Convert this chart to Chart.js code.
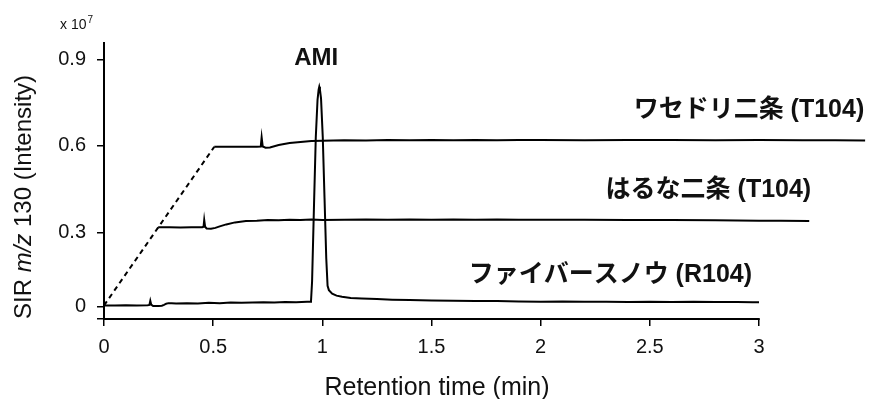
<!DOCTYPE html>
<html>
<head>
<meta charset="utf-8">
<script src="https://cdn.jsdelivr.net/npm/chart.js@4"></script>
<style>
  html, body { margin: 0; padding: 0; background: #fff; }
  canvas { display: block; }
</style>
</head>
<body>
<canvas id="c" width="872" height="399"></canvas>
<script>
// ---- Data (time in min, signal in x10^7) ----
const fiberTime   = [0, 0.05, 0.10, 0.15, 0.20, 0.208, 0.212, 0.216, 0.225, 0.25, 0.265, 0.275, 0.285, 0.295, 0.31, 0.33, 0.38, 0.43, 0.48, 0.53, 0.58, 0.63, 0.68, 0.73, 0.78, 0.83, 0.88, 0.93, 0.945,
                     0.948, 0.953, 0.962, 0.970, 0.978, 0.983, 0.986, 0.989, 0.994, 1.002, 1.010, 1.018, 1.024, 1.030, 1.045, 1.065, 1.09, 1.13, 1.18, 1.25, 1.32, 1.40, 1.50, 1.60, 1.70, 1.80, 1.90,
                     2.0, 2.1, 2.2, 2.3, 2.4, 2.5, 2.6, 2.7, 2.8, 2.9, 2.97, 3.0];
const fiberSignal = [0.047, 0.047, 0.048, 0.047, 0.048, 0.049, 0.063, 0.050, 0.045, 0.045, 0.046, 0.049, 0.053, 0.055, 0.055, 0.054, 0.055, 0.054, 0.056, 0.055, 0.057, 0.056, 0.057, 0.058, 0.057, 0.059, 0.058, 0.060, 0.060,
                     0.061, 0.13, 0.40, 0.63, 0.76, 0.795, 0.805, 0.795, 0.765, 0.63, 0.42, 0.21, 0.115, 0.100, 0.088, 0.081, 0.077, 0.073, 0.071, 0.069, 0.067, 0.066, 0.064, 0.063, 0.062, 0.062, 0.061,
                     0.060, 0.061, 0.060, 0.060, 0.059, 0.060, 0.059, 0.060, 0.059, 0.059, 0.058, 0.058];

const harunaTime   = [0.248, 0.30, 0.35, 0.40, 0.45, 0.456, 0.459, 0.463, 0.47, 0.49, 0.51, 0.53, 0.56, 0.60, 0.65, 0.70, 0.75, 0.80, 0.85, 0.90, 0.95, 1.0, 1.1, 1.2, 1.3, 1.4, 1.5, 1.6, 1.7, 1.8, 1.9, 2.0, 2.2, 2.4, 2.6, 2.8, 3.0, 3.1, 3.23];
const harunaSignal = [0.318, 0.318, 0.317, 0.318, 0.318, 0.320, 0.343, 0.320, 0.314, 0.313, 0.316, 0.321, 0.328, 0.335, 0.340, 0.341, 0.343, 0.342, 0.344, 0.343, 0.345, 0.343, 0.344, 0.345, 0.344, 0.345, 0.344, 0.345, 0.344, 0.345, 0.344, 0.344, 0.344, 0.343, 0.343, 0.342, 0.341, 0.341, 0.340];

const wasedoriTime   = [0.505, 0.55, 0.60, 0.65, 0.70, 0.718, 0.722, 0.727, 0.74, 0.76, 0.80, 0.85, 0.90, 0.95, 1.0, 1.1, 1.2, 1.3, 1.4, 1.5, 1.6, 1.7, 1.8, 1.9, 2.0, 2.2, 2.4, 2.6, 2.8, 3.0, 3.2, 3.35, 3.486];
const wasedoriSignal = [0.597, 0.597, 0.597, 0.597, 0.597, 0.598, 0.630, 0.598, 0.594, 0.595, 0.603, 0.610, 0.614, 0.617, 0.618, 0.620, 0.619, 0.621, 0.620, 0.621, 0.620, 0.621, 0.620, 0.621, 0.621, 0.620, 0.621, 0.621, 0.620, 0.621, 0.620, 0.620, 0.619];

// dashed guide joining the offset origins
const offsetTime   = [0, 0.505];
const offsetSignal = [0.047, 0.597];

const xTickValues = [0, 0.5, 1, 1.5, 2, 2.5, 3];
const xTickLabels = ['0', '0.5', '1', '1.5', '2', '2.5', '3'];
const yTickValues = [0, 0.043, 0.3, 0.6, 0.9];
const yTickLabels = ['', '0', '0.3', '0.6', '0.9'];
const xAxisEnd = 3;

const traceNames = ['ワセドリ二条 (T104)', 'はるな二条 (T104)', 'ファイバースノウ (R104)'];
const peakName = 'AMI';

// ---- Chart ----
const FONT = "'Liberation Sans', Arial, 'Noto Sans CJK JP', sans-serif";
Chart.defaults.font.family = FONT;
Chart.defaults.color = '#111';

const pts = (t, v) => t.map((x, i) => ({ x, y: v[i] }));
const lineStyle = { borderColor: '#000', borderWidth: 2, pointRadius: 0, tension: 0, fill: false, clip: false, showLine: true };

const textPlugin = {
  id: 'texts',
  afterDraw(chart) {
    const { ctx, scales: { x, y } } = chart;
    ctx.save();

    // x axis line, 0 .. 3 only
    ctx.strokeStyle = '#000';
    ctx.lineWidth = 2;
    ctx.beginPath();
    ctx.moveTo(x.getPixelForValue(0) - 1, y.getPixelForValue(0));
    ctx.lineTo(x.getPixelForValue(xAxisEnd) + 0.75, y.getPixelForValue(0));
    ctx.stroke();

    ctx.fillStyle = '#111';
    ctx.textBaseline = 'alphabetic';

    // multiplier
    ctx.textAlign = 'left';
    ctx.font = "14px " + FONT;
    ctx.fillText('x 10', 60, 29);
    const mw = ctx.measureText('x 10').width;
    ctx.font = "10px " + FONT;
    ctx.fillText('7', 60 + mw + 1, 23);

    // y title with italic m/z
    const segs = [['SIR ', "24px " + FONT], ['m/z', "italic 24px " + FONT], [' 130 (Intensity)', "24px " + FONT]];
    let total = 0;
    segs.forEach(s => { ctx.font = s[1]; total += ctx.measureText(s[0]).width; });
    ctx.save();
    ctx.translate(31, 197 + total / 2);
    ctx.rotate(-Math.PI / 2);
    let cx = 0;
    segs.forEach(s => { ctx.font = s[1]; ctx.fillText(s[0], cx, 0); cx += ctx.measureText(s[0]).width; });
    ctx.restore();

    // x title
    ctx.textAlign = 'center';
    ctx.font = "25px " + FONT;
    ctx.fillText('Retention time (min)', 437, 395);

    // peak label
    ctx.font = "bold 24px " + FONT;
    ctx.fillText(peakName, x.getPixelForValue(0.972), y.getPixelForValue(0.881));

    // trace labels (right aligned)
    ctx.textAlign = 'right';
    ctx.font = "bold 25px " + FONT;
    ctx.fillText(traceNames[0], x.getPixelForValue(3.482), y.getPixelForValue(0.700));
    ctx.fillText(traceNames[1], x.getPixelForValue(3.239), y.getPixelForValue(0.423));
    ctx.fillText(traceNames[2], x.getPixelForValue(2.968), y.getPixelForValue(0.128));
    ctx.restore();
  }
};

new Chart(document.getElementById('c'), {
  type: 'scatter',
  data: {
    datasets: [
      Object.assign({ label: traceNames[2], data: pts(fiberTime, fiberSignal) }, lineStyle),
      Object.assign({ label: traceNames[1], data: pts(harunaTime, harunaSignal) }, lineStyle),
      Object.assign({ label: traceNames[0], data: pts(wasedoriTime, wasedoriSignal) }, lineStyle),
      Object.assign({ label: 'offset', data: pts(offsetTime, offsetSignal) }, lineStyle, { borderDash: [5, 4] })
    ]
  },
  options: {
    responsive: false,
    animation: false,
    layout: { padding: { left: 0, right: 6, top: 43, bottom: 0 } },
    plugins: { legend: { display: false }, tooltip: { enabled: false } },
    scales: {
      x: {
        type: 'linear', min: 0, max: 3.49,
        afterBuildTicks: s => { s.ticks = xTickValues.map(v => ({ value: v })); },
        afterFit: s => { s.height = 80; },
        ticks: { callback: (v, i) => xTickLabels[i], font: { size: 20 }, color: '#111', padding: 9, maxRotation: 0, autoSkip: false },
        grid: { drawOnChartArea: false, drawTicks: true, tickLength: 7, color: '#000', lineWidth: 1.5 },
        border: { display: false }
      },
      y: {
        type: 'linear', min: 0, max: 0.957,
        afterBuildTicks: s => { s.ticks = yTickValues.map(v => ({ value: v })); },
        afterFit: s => { s.width = 104; },
        ticks: { callback: (v, i) => yTickLabels[i], font: { size: 20 }, color: '#111', padding: 11, autoSkip: false },
        grid: { drawOnChartArea: false, drawTicks: true, tickLength: 7, color: '#000', lineWidth: 1.5 },
        border: { color: '#000', width: 2 }
      }
    }
  },
  plugins: [textPlugin]
});
</script>
</body>
</html>
